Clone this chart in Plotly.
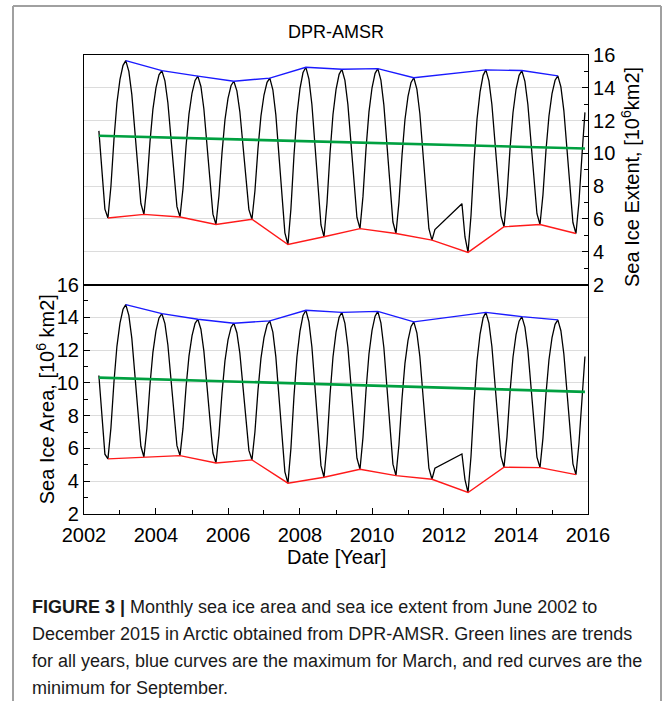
import pandas as pd
import plotly.graph_objects as go

# ---- data -----------------------------------------------------------------
# Monthly values, AMSR-E period (Jun 2002 - Oct 2011) and AMSR2 period (Jul 2012 - Dec 2015)
months_amsre = pd.date_range("2002-06-01", "2011-10-01", freq="MS")
months_amsr2 = pd.date_range("2012-07-01", "2015-12-01", freq="MS")

extent_amsre = [
    11.37, 8.90, 6.60, 6.06, 7.98, 10.86, 13.07,                                  # 2002
    14.51, 15.37, 15.66, 15.00, 13.60, 11.44, 9.09, 6.94, 6.28, 8.03, 10.67, 12.68,  # 2003
    14.00, 14.79, 15.05, 14.42, 13.09, 11.03, 8.80, 6.75, 6.12, 7.84, 10.42, 12.39,  # 2004
    13.68, 14.45, 14.71, 14.08, 12.72, 10.64, 8.38, 6.29, 5.66, 7.41, 10.03, 12.04,  # 2005
    13.35, 14.14, 14.40, 13.81, 12.55, 10.61, 8.51, 6.57, 5.98, 7.70, 10.29, 12.27,  # 2006
    13.56, 14.33, 14.59, 13.88, 12.36, 10.02, 7.49, 5.15, 4.44, 6.60, 9.85, 12.33,   # 2007
    13.95, 14.93, 15.25, 14.53, 12.98, 10.60, 8.01, 5.63, 4.91, 6.95, 10.02, 12.37,  # 2008
    13.90, 14.82, 15.13, 14.45, 12.99, 10.76, 8.33, 6.09, 5.41, 7.36, 10.29, 12.53,  # 2009
    14.00, 14.88, 15.17, 14.47, 12.96, 10.64, 8.13, 5.81, 5.11, 7.01, 9.86, 12.05,   # 2010
    13.47, 14.33, 14.61, 13.92, 12.43, 10.16, 7.68, 5.40, 4.71, 5.35,                # 2011
]
extent_amsr2 = [
    6.93, 4.90, 3.96, 6.19, 9.53, 12.08,                                          # 2012
    13.75, 14.76, 15.09, 14.42, 12.98, 10.78, 8.39, 6.19, 5.52, 7.43, 10.29, 12.48,  # 2013
    13.91, 14.76, 15.05, 14.39, 12.98, 10.82, 8.48, 6.32, 5.66, 7.47, 10.20, 12.28,  # 2014
    13.64, 14.46, 14.73, 14.06, 12.61, 10.40, 8.00, 5.78, 5.11, 7.00, 9.90, 12.50,   # 2015
]

area_amsre = [
    10.45, 7.90, 5.65, 5.36, 7.24, 10.07, 12.23,                                  # 2002
    13.64, 14.49, 14.77, 14.12, 12.73, 10.59, 8.27, 6.13, 5.48, 7.23, 9.85, 11.86,   # 2003
    13.17, 13.96, 14.22, 13.61, 12.31, 10.32, 8.16, 6.17, 5.56, 7.22, 9.72, 11.63,   # 2004
    12.88, 13.63, 13.88, 13.27, 11.95, 9.93, 7.74, 5.72, 5.11, 6.82, 9.38, 11.34,    # 2005
    12.62, 13.38, 13.64, 13.06, 11.81, 9.89, 7.80, 5.88, 5.30, 7.00, 9.54, 11.49,    # 2006
    12.76, 13.53, 13.78, 13.09, 11.60, 9.33, 6.85, 4.57, 3.88, 5.99, 9.16, 11.58,    # 2007
    13.16, 14.11, 14.43, 13.72, 12.19, 9.84, 7.30, 4.95, 4.24, 6.25, 9.27, 11.58,    # 2008
    13.09, 14.00, 14.30, 13.63, 12.19, 9.99, 7.60, 5.40, 4.73, 6.66, 9.55, 11.76,    # 2009
    13.20, 14.07, 14.36, 13.66, 12.16, 9.85, 7.35, 5.04, 4.34, 6.22, 9.03, 11.19,    # 2010
    12.59, 13.44, 13.72, 13.05, 11.61, 9.40, 7.00, 4.79, 4.12, 4.79,                 # 2011
]
area_amsr2 = [
    5.66, 4.10, 3.31, 5.51, 8.81, 11.33,                                          # 2012
    12.98, 13.97, 14.30, 13.64, 12.22, 10.05, 7.69, 5.51, 4.85, 6.69, 9.45, 11.56,   # 2013
    12.94, 13.76, 14.04, 13.40, 12.01, 9.90, 7.59, 5.47, 4.83, 6.63, 9.34, 11.41,    # 2014
    12.76, 13.57, 13.84, 13.18, 11.76, 9.59, 7.23, 5.06, 4.40, 6.30, 9.00, 11.61,    # 2015
]

# March maxima (no March 2012 in the record)
march_years = [2003, 2004, 2005, 2006, 2007, 2008, 2009, 2010, 2011, 2013, 2014, 2015]
extent_march = [15.66, 15.05, 14.71, 14.40, 14.59, 15.25, 15.13, 15.17, 14.61, 15.09, 15.05, 14.73]
area_march = [14.77, 14.22, 13.88, 13.64, 13.78, 14.43, 14.30, 14.36, 13.72, 14.30, 14.04, 13.84]

# September minima
sept_years = list(range(2002, 2016))
extent_sept = [6.06, 6.28, 6.12, 5.66, 5.98, 4.44, 4.91, 5.41, 5.11, 4.71, 3.96, 5.52, 5.66, 5.11]
area_sept = [5.36, 5.48, 5.56, 5.11, 5.30, 3.88, 4.24, 4.73, 4.34, 4.12, 3.31, 4.85, 4.83, 4.40]

# Linear trends over the whole record (start / end values)
trend_dates = ["2002-06-01", "2015-12-01"]
extent_trend = [11.07, 10.30]
area_trend = [10.32, 9.45]

y_ticks = [2, 4, 6, 8, 10, 12, 14, 16]

caption_lines = [
    "<b>FIGURE 3 |</b> Monthly sea ice area and sea ice extent from June 2002 to",
    "December 2015 in Arctic obtained from DPR-AMSR. Green lines are trends",
    "for all years, blue curves are the maximum for March, and red curves are the",
    "minimum for September.",
]

# ---- figure ---------------------------------------------------------------
months = list(months_amsre) + list(months_amsr2)
march_dates = [f"{y}-03-01" for y in march_years]
sept_dates = [f"{y}-09-01" for y in sept_years]

fig = go.Figure()

def add_panel(values, maxima, minima, trend, xa, ya):
    fig.add_trace(go.Scatter(x=months, y=values, mode="lines",
                             line=dict(color="black", width=1.3),
                             xaxis=xa, yaxis=ya, showlegend=False))
    fig.add_trace(go.Scatter(x=march_dates, y=maxima, mode="lines",
                             line=dict(color="#1a1aff", width=1.4),
                             xaxis=xa, yaxis=ya, showlegend=False))
    fig.add_trace(go.Scatter(x=sept_dates, y=minima, mode="lines",
                             line=dict(color="#ff1a1a", width=1.4),
                             xaxis=xa, yaxis=ya, showlegend=False))
    fig.add_trace(go.Scatter(x=trend_dates, y=trend, mode="lines",
                             line=dict(color="#00a040", width=2.6),
                             xaxis=xa, yaxis=ya, showlegend=False))

add_panel(area_amsre + area_amsr2, area_march, area_sept, area_trend, "x", "y")
add_panel(extent_amsre + extent_amsr2, extent_march, extent_sept, extent_trend, "x2", "y2")

FONT = "Liberation Sans, Arial, sans-serif"
tick_font = dict(family=FONT, size=20, color="black")
grid = "#dcdcdc"
AXLW = 1.2

common_y = dict(range=[2, 16], tickvals=y_ticks, ticks="inside", ticklen=6,
                tickcolor="black", tickwidth=1, showline=True, linecolor="black",
                linewidth=AXLW, mirror=True, showgrid=True, gridcolor=grid, gridwidth=1,
                zeroline=False, tickfont=tick_font,
                minor=dict(dtick=1, ticks="inside", ticklen=4, tickcolor="black",
                           showgrid=False))

fig.update_layout(
    width=663, height=701,
    margin=dict(l=84, r=75, t=55, b=187),
    paper_bgcolor="white", plot_bgcolor="white",
    font=dict(family=FONT, color="black"),
    xaxis=dict(domain=[0, 1], anchor="y", type="date",
               range=["2002-01-01", "2016-01-01"], tick0="2002-01-01", dtick="M24",
               tickformat="%Y", ticks="inside", ticklen=6, tickcolor="black",
               ticklabelstandoff=3,
               showline=True, linecolor="black", linewidth=AXLW, mirror=True,
               showgrid=False, zeroline=False, tickfont=tick_font,
               minor=dict(dtick="M12", ticks="inside", ticklen=4, tickcolor="black",
                          showgrid=False)),
    yaxis=dict(domain=[0, 0.5], anchor="x", side="left", **common_y),
    xaxis2=dict(domain=[0, 1], anchor="y2", type="date", matches="x",
                range=["2002-01-01", "2016-01-01"], showticklabels=False,
                ticks="", showline=True, linecolor="black", linewidth=AXLW,
                mirror=True, showgrid=False, zeroline=False),
    yaxis2=dict(domain=[0.5, 1], anchor="x2", side="right", **common_y),
)

H = 459.0
W = 504.0

def px(xp):
    return (xp - 84) / W

def py(yp):
    return (514 - yp) / H

annotations = [
    dict(text="DPR-AMSR", x=0.5, y=py(32), xref="paper", yref="paper",
         showarrow=False, font=dict(family=FONT, size=18), xanchor="center", yanchor="middle"),
    dict(text="Date [Year]", x=0.5, y=py(557), xref="paper", yref="paper",
         showarrow=False, font=dict(family=FONT, size=20), xanchor="center", yanchor="middle"),
    dict(text="Sea Ice Area, [10<sup>6</sup> km2]", x=px(45), y=0.25, xref="paper",
         yref="paper", showarrow=False, textangle=-90, font=dict(family=FONT, size=20),
         xanchor="center", yanchor="middle"),
    dict(text="Sea Ice Extent, [10<sup>6</sup>km2]", x=px(630), y=py(177), xref="paper",
         yref="paper", showarrow=False, textangle=-90, font=dict(family=FONT, size=20),
         xanchor="center", yanchor="middle"),
]
for i, line in enumerate(caption_lines):
    annotations.append(dict(text=line, x=px(30), y=py(607 + 27 * i), xref="paper",
                            yref="paper", showarrow=False, xanchor="left", yanchor="middle",
                            font=dict(family=FONT, size=18, color="#1a1a1a")))
fig.update_layout(annotations=annotations)

# light grey frame around the figure
frame = dict(color="#a0a0a0", width=2)
fig.update_layout(shapes=[
    dict(type="line", xref="paper", yref="paper", x0=px(13), x1=px(13), y0=py(6), y1=py(701), line=frame),
    dict(type="line", xref="paper", yref="paper", x0=px(13), x1=px(661), y0=py(6), y1=py(6), line=frame),
    dict(type="line", xref="paper", yref="paper", x0=px(661), x1=px(661), y0=py(6), y1=py(701), line=frame),
])

fig.write_html("out.html")
